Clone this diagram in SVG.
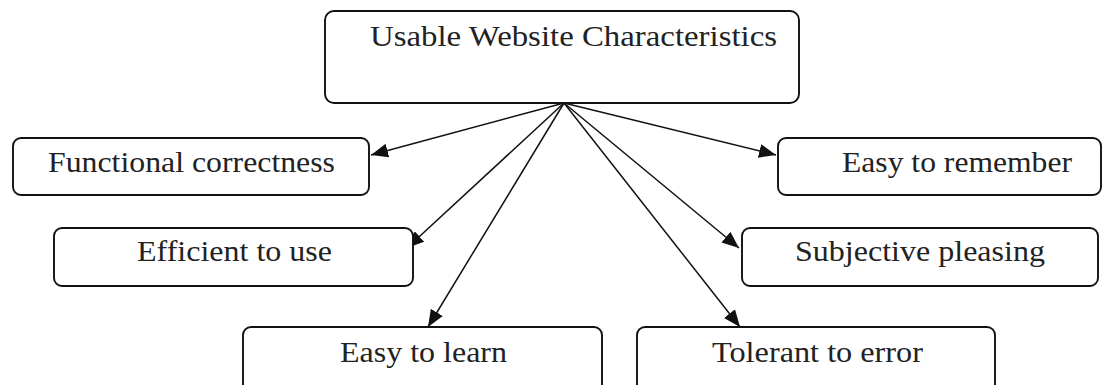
<svg xmlns="http://www.w3.org/2000/svg" width="1104" height="385" viewBox="0 0 1104 385">
<style>
.box{fill:#fff;stroke:#111;stroke-width:1.9}
.lbl{font-family:"Liberation Serif","Times New Roman",serif;font-size:29px;fill:#222}
.edge{stroke:#111;stroke-width:1.5;fill:none;marker-end:url(#ah)}
</style>
<defs>
<marker id="ah" markerUnits="userSpaceOnUse" markerWidth="18" markerHeight="14" refX="17" refY="7" orient="auto">
<path d="M0,0 L17,7 L0,14 Z" fill="#111"/>
</marker>
</defs>
<rect width="1104" height="385" fill="#fff"/>
<g id="connectors">
<line class="edge" x1="564" y1="103" x2="371" y2="155"/>
<line class="edge" x1="564" y1="103" x2="407" y2="248"/>
<line class="edge" x1="564" y1="103" x2="428" y2="327"/>
<line class="edge" x1="564" y1="103" x2="740" y2="327"/>
<line class="edge" x1="564" y1="103" x2="739" y2="248"/>
<line class="edge" x1="564" y1="103" x2="776" y2="155"/>
</g>
<g id="root">
<rect class="box" x="325" y="11" width="474" height="92" rx="9"/>
<text class="lbl" x="370" y="46" textLength="407" lengthAdjust="spacingAndGlyphs">Usable Website Characteristics</text>
</g>
<g id="functional">
<rect class="box" x="13" y="138" width="356" height="57" rx="8"/>
<text class="lbl" x="48" y="172" textLength="287" lengthAdjust="spacingAndGlyphs">Functional correctness</text>
</g>
<g id="remember">
<rect class="box" x="778" y="138" width="323" height="57" rx="8"/>
<text class="lbl" x="842" y="172" textLength="230" lengthAdjust="spacingAndGlyphs">Easy to remember</text>
</g>
<g id="efficient">
<rect class="box" x="54" y="228" width="359" height="58" rx="8"/>
<text class="lbl" x="137" y="261" textLength="195" lengthAdjust="spacingAndGlyphs">Efficient to use</text>
</g>
<g id="subjective">
<rect class="box" x="742" y="228" width="356" height="58" rx="8"/>
<text class="lbl" x="795" y="261" textLength="250" lengthAdjust="spacingAndGlyphs">Subjective pleasing</text>
</g>
<g id="learn">
<rect class="box" x="243" y="327" width="359" height="80" rx="8"/>
<text class="lbl" x="340" y="362" textLength="167" lengthAdjust="spacingAndGlyphs">Easy to learn</text>
</g>
<g id="tolerant">
<rect class="box" x="637" y="327" width="358" height="80" rx="8"/>
<text class="lbl" x="712" y="362" textLength="211" lengthAdjust="spacingAndGlyphs">Tolerant to error</text>
</g>
</svg>
